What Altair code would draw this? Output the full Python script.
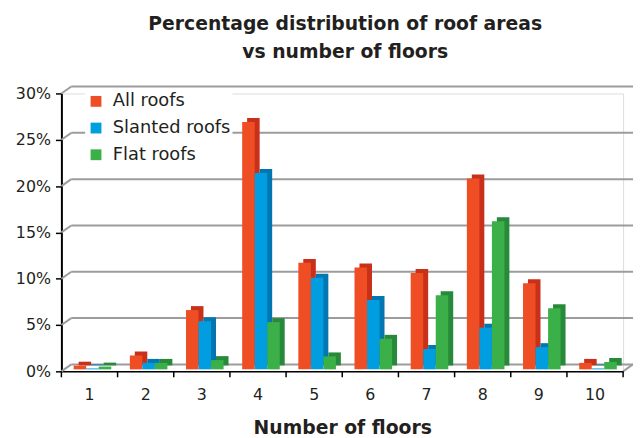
import altair as alt
import pandas as pd

floors = [1, 2, 3, 4, 5, 6, 7, 8, 9, 10]
all_roofs = [0.4, 1.5, 6.4, 26.7, 11.5, 11.0, 10.4, 20.6, 9.3, 0.7]
slanted_roofs = [0.1, 0.7, 5.2, 21.2, 9.9, 7.5, 2.2, 4.5, 2.4, 0.1]
flat_roofs = [0.3, 0.7, 1.0, 5.1, 1.4, 3.3, 8.0, 16.0, 6.6, 0.8]
series_names = ["All roofs", "Slanted roofs", "Flat roofs"]
front_colors = ["#EF4D24", "#009EE0", "#3BAF48"]
side_colors = ["#C9301A", "#0077B0", "#27893A"]
y_ticks = [0, 5, 10, 15, 20, 25, 30]

rows = []
for name, vals in zip(series_names, [all_roofs, slanted_roofs, flat_roofs]):
    for f, v in zip(floors, vals):
        rows.append({"floor": f, "series": name, "value": v})
df = pd.DataFrame(rows)
grid_df = pd.DataFrame({"value": y_ticks})
tick_df = pd.DataFrame({"floor": floors})

W, H = 568, 281
DX, DY = 10, 7
STEP = W / 10
GROUP = 38
FONT = "DejaVu Sans"
TXT = "#231f20"

xscale = alt.Scale(domain=floors, paddingInner=1 - GROUP / STEP, paddingOuter=(1 - GROUP / STEP) / 2)
yscale = alt.Scale(domain=[0, 30])

xaxis = alt.Axis(
    title="Number of floors", titleFont=FONT, titleFontSize=19, titleFontWeight="bold",
    titleColor=TXT, titlePadding=17,
    labelFont=FONT, labelFontSize=16, labelColor=TXT, labelAngle=0, labelPadding=15,
    ticks=False, domainColor="#000000", domainWidth=1.5, grid=False,
)
yaxis = alt.Axis(
    title=None, values=y_ticks, labelExpr="datum.value + '%'",
    labelFont=FONT, labelFontSize=16, labelColor=TXT, labelPadding=5,
    tickSize=6, tickColor="#000000", tickWidth=1.5,
    domainColor="#000000", domainWidth=2, grid=False,
)
xenc = alt.X("floor:O", scale=xscale, sort=floors, axis=xaxis)
yenc = alt.Y("value:Q", scale=yscale, axis=yaxis)

# back gridlines (3D wall)
grid_h = alt.Chart(grid_df).mark_rule(color="#9c9c9c", strokeWidth=2, yOffset=-DY).encode(
    y=yenc, x=alt.value(DX), x2=alt.value(W + DX),
)
grid_d = alt.Chart(grid_df).mark_rule(color="#9c9c9c", strokeWidth=2, y2Offset=-DY).encode(
    y=yenc, y2=alt.Y2("value"), x=alt.value(0), x2=alt.value(DX),
)
floor_r = alt.Chart(grid_df.iloc[:1]).mark_rule(color="#9c9c9c", strokeWidth=2, y2Offset=-DY).encode(
    y=yenc, y2=alt.Y2("value"), x=alt.value(W), x2=alt.value(W + DX),
)

SH = 3  # group shift to the right
back = alt.Chart(df).mark_bar(yOffset=-6, y2Offset=-6).encode(
    x=xenc,
    xOffset=alt.XOffset("series:N", sort=series_names,
                        scale=alt.Scale(domain=series_names, range=[SH + 5, SH + 5 + GROUP],
                                        paddingInner=0, paddingOuter=0)),
    y=yenc,
    color=alt.Color("series:N", sort=series_names,
                    scale=alt.Scale(domain=series_names, range=side_colors), legend=None),
)
front = alt.Chart(df).mark_bar(yOffset=-2, y2Offset=-2).encode(
    x=xenc,
    xOffset=alt.XOffset("series:N", sort=series_names,
                        scale=alt.Scale(domain=series_names, range=[SH, SH + GROUP],
                                        paddingInner=0, paddingOuter=0)),
    y=yenc,
    color=alt.Color(
        "series:N", sort=series_names,
        scale=alt.Scale(domain=series_names, range=front_colors),
        legend=alt.Legend(
            title=None, orient="none", legendX=24, legendY=-3,
            symbolType="square", symbolSize=120, symbolStrokeWidth=0,
            labelFont=FONT, labelFontSize=18, labelColor=TXT,
            rowPadding=9, labelOffset=8, fillColor="#ffffff", padding=2,
        ),
    ),
)

xticks = alt.Chart(tick_df).mark_rule(color="#000000", strokeWidth=1.5, xOffset=-STEP / 2, x2Offset=-STEP / 2).encode(
    x=xenc, y=alt.value(H), y2=alt.value(H + 6),
)
xend = alt.Chart(tick_df.iloc[-1:]).mark_rule(color="#000000", strokeWidth=1.5, xOffset=STEP / 2, x2Offset=STEP / 2).encode(
    x=xenc, y=alt.value(H), y2=alt.value(H + 6),
)

chart = alt.layer(grid_h, grid_d, floor_r, back, front, xticks, xend).resolve_scale(
    color="independent", xOffset="independent"
).properties(
    width=W, height=H,
    autosize=alt.AutoSizeParams(type="none"),
    padding={"left": 54, "top": 84, "right": 10, "bottom": 64},
    title=alt.TitleParams(
        ["Percentage distribution of roof areas", "vs number of floors"],
        font=FONT, fontSize=19, fontWeight="bold", color=TXT,
        anchor="middle", frame="group", lineHeight=28, offset=24, dx=3,
    ),
).configure_view(stroke=None).configure(background="#ffffff")

chart.save("out.html", embed_options={"renderer": "svg", "actions": False})
